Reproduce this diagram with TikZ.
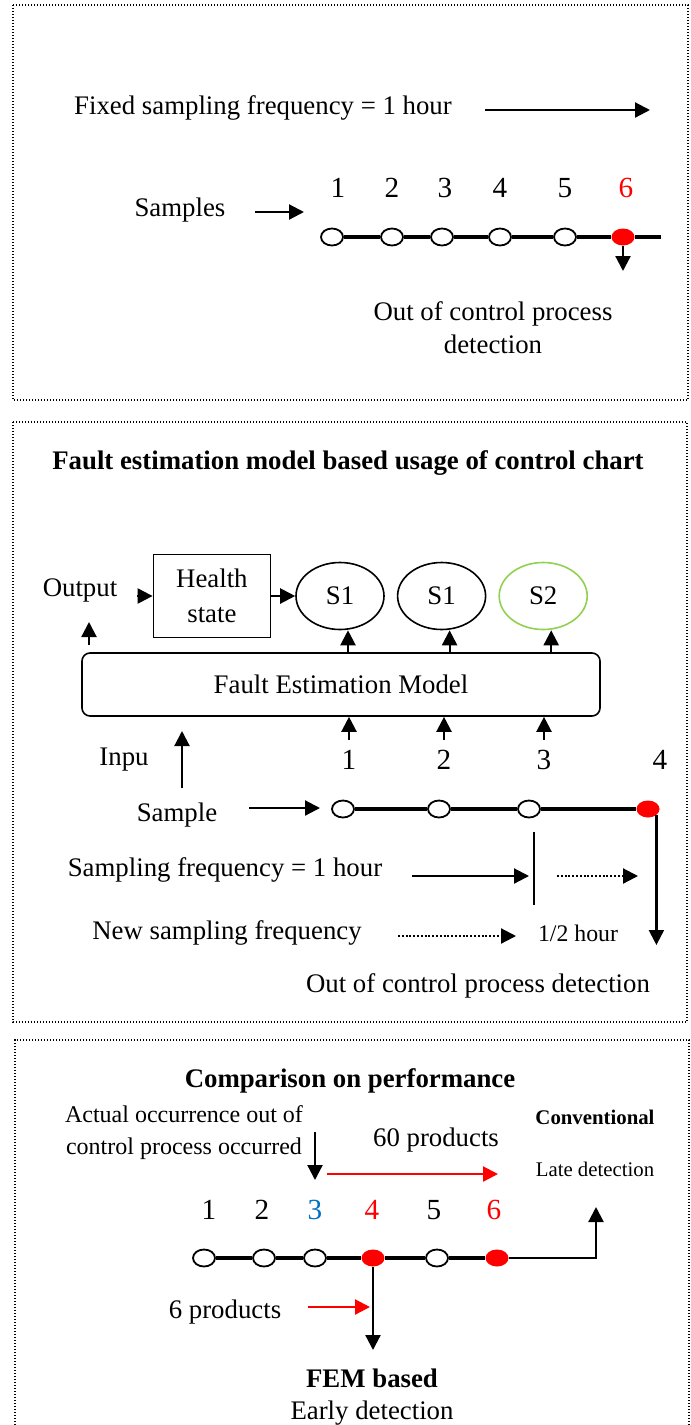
\documentclass[tikz,border=0pt]{standalone}
\usepackage{fontspec}
\setmainfont{Liberation Serif}
\usepackage{xcolor}
\usetikzlibrary{shapes.geometric,arrows.meta,positioning,calc}

\definecolor{alarmred}{RGB}{255,0,0}
\definecolor{shiftblue}{RGB}{0,112,192}
\definecolor{stategreen}{RGB}{146,208,80}

\begin{document}
\begin{tikzpicture}[
    x=0.5pt, y=-0.5pt,
    panel/.style={draw=black, line width=0.7pt, dash pattern=on 0.7pt off 0.8pt},
    txt/.style={font=\fontsize{13.4}{16.5}\selectfont, inner sep=0pt, align=center},
    boldtxt/.style={txt, font=\fontsize{13.4}{16.5}\selectfont\bfseries},
    smalltxt/.style={font=\fontsize{10.4}{12.5}\selectfont, inner sep=0pt, align=center},
    num/.style={font=\fontsize{14.6}{16}\selectfont, inner sep=0pt},
    sample/.style={ellipse, draw=black, line width=0.9pt, fill=white, minimum width=11pt, minimum height=8.5pt, inner sep=0pt},
    alarm/.style={ellipse, fill=alarmred, minimum width=11.5pt, minimum height=8.5pt, inner sep=0pt},
    healthstate/.style={ellipse, draw=black, line width=0.8pt, minimum width=44pt, minimum height=33.5pt, inner sep=0pt, font=\fontsize{13.4}{16.5}\selectfont},
    statebox/.style={rectangle, draw=black, line width=0.8pt, minimum width=58.5pt, minimum height=41.5pt, inner sep=0pt, align=center, font=\fontsize{13.4}{17.5}\selectfont},
    timeline/.style={line width=2.4pt},
    arrow/.style={-{Triangle[length=7.5pt,width=7.5pt]}, line width=1.1pt},
    dotarrow/.style={arrow, dash pattern=on 1pt off 0.9pt},
]
\useasboundingbox (0,0) rectangle (691,1425);

% Panel 1: fixed sampling
\draw[panel] (13,5) rectangle (688,400);

\node[txt] (fixed) at (263,108) {Fixed sampling frequency = 1 hour};
\coordinate (fixedA) at (485,110);
\coordinate (fixedB) at (650,110);
\draw[arrow] (fixedA) -- (fixedB);

\node[txt] (samples) at (180,210) {Samples};
\coordinate (samplesA) at (255,212);
\coordinate (samplesB) at (304,212);
\draw[arrow] (samplesA) -- (samplesB);

\foreach \x/\i in {338/1, 392/2, 445/3, 500/4, 565/5}{
    \node[num] (pn\i) at (\x,188) {\i};
}
\node[num, text=alarmred] (pn6) at (626,188) {6};

\foreach \x/\i in {332/1, 392/2, 442/3, 500/4, 565/5}{
    \node[sample] (pa\i) at (\x,237) {};
}
\node[alarm] (pa6) at (623,237) {};
\coordinate (paend) at (661,237);
\draw[timeline] (pa1) -- (pa2) -- (pa3) -- (pa4) -- (pa5) -- (pa6) -- (paend);

\coordinate (padown) at (623,271);
\draw[arrow] (pa6.south) -- (padown);
\node[txt] (padetect) at (493,328) {Out of control process\\detection};

% Panel 2: fault estimation model
\draw[panel] (13,422) rectangle (687,1022);
\node[boldtxt] (femtitle) at (348,463) {Fault estimation model based usage of control chart};

\node[healthstate] (s1a) at (340,596) {S1};
\node[healthstate, right=6pt of s1a] (s1b) {S1};
\node[healthstate, draw=stategreen, right=6pt of s1b] (s2) {S2};
\node[statebox, left=12pt of s1a] (health) {Health\\state};

\node[txt] (output) at (80,590) {Output};
\coordinate (outA) at (137,596);
\draw[arrow] (outA) -- (health.west);
\draw[arrow] (health.east) -- (s1a.west);
\coordinate (outupA) at (89,645);
\coordinate (outupB) at (89,622);
\draw[arrow] (outupA) -- (outupB);

\node[statebox, rounded corners=4pt, minimum width=259pt, minimum height=31.5pt] (fem) at (341,684.5) {Fault Estimation Model};
\foreach \n in {s1a, s1b, s2}{
    \draw[arrow] ($(fem.north -| \n)+(8,0)$) -- ($(\n.south)+(8,0)$);
}

\foreach \x/\i in {349/1, 444/2, 544/3}{
    \node[num] (fn\i) at (\x,760) {\i};
    \draw[arrow] ($(fn\i.north)+(0,-10)$) -- (fn\i.north |- fem.south);
}
\node[num] (fn4) at (660,760) {4};

\node[txt] (inpu) at (124,760) {Inpu};
\coordinate (inpuA) at (182,788);
\coordinate (inpuB) at (182,731);
\draw[arrow] (inpuA) -- (inpuB);

\node[txt] (sample) at (177,815) {Sample};
\coordinate (sampleA) at (249,808);
\coordinate (sampleB) at (320,808);
\draw[arrow] (sampleA) -- (sampleB);

\foreach \x/\i in {343/1, 439/2, 529/3}{
    \node[sample] (fb\i) at (\x,809) {};
}
\node[alarm] (fb4) at (648,809) {};
\draw[timeline] (fb1) -- (fb2) -- (fb3) -- (fb4);
\coordinate (fbdown) at (658,945);
\draw[arrow] (fb4.south east) -- (fb4.south east |- fbdown);

% switch from 1 hour to 1/2 hour
\coordinate (tickA) at (534,832);
\coordinate (tickB) at (534,905);
\draw[line width=1pt] (tickA) -- (tickB);

\node[txt] (oldfreq) at (225,870) {Sampling frequency = 1 hour};
\coordinate (oldA) at (412,876);
\coordinate (oldB) at (529,876);
\draw[arrow] (oldA) -- (oldB);
\coordinate (dotA) at (557,876);
\coordinate (dotB) at (638,876);
\draw[dotarrow] (dotA) -- (dotB);

\node[txt] (newfreq) at (227,933) {New sampling frequency};
\coordinate (newA) at (398,936);
\coordinate (newB) at (516,936);
\draw[dotarrow] (newA) -- (newB);
\node[txt, font=\fontsize{11.9}{14}\selectfont] (halfhour) at (578,933) {1/2 hour};

\node[txt] (fbdetect) at (478,986) {Out of control process detection};

% Panel 3: comparison
\draw[panel] (15,1425) -- (15,1040) -- (689,1040) -- (689,1425);
\node[boldtxt] (comptitle) at (350,1081) {Comparison on performance};

\node[txt, font=\fontsize{12}{16}\selectfont] (actual) at (184,1133) {Actual occurrence out of\\control process occurred};
\coordinate (actualA) at (315,1132);
\coordinate (actualB) at (315,1180);
\draw[arrow] (actualA) -- (actualB);

\node[txt] (sixty) at (436,1140) {60 products};
\coordinate (sixtyA) at (327,1174);
\coordinate (sixtyB) at (498,1174);
\draw[arrow, alarmred] (sixtyA) -- (sixtyB);

\node[smalltxt, font=\fontsize{10.4}{12.5}\selectfont\bfseries] (conv) at (595,1117) {Conventional};
\node[smalltxt] (late) at (595,1169) {Late detection};

\foreach \x/\i/\c in {209/1/black, 262/2/black, 315/3/shiftblue, 372/4/alarmred, 434/5/black, 494/6/alarmred}{
    \node[num, text=\c] (cn\i) at (\x,1210) {\i};
}

\foreach \x/\i in {204/1, 264/2, 315/3, 437/5}{
    \node[sample] (tc\i) at (\x,1258) {};
}
\node[alarm] (tc4) at (373,1258) {};
\node[alarm] (tc6) at (497,1258) {};
\draw[timeline] (tc1) -- (tc2) -- (tc3) -- (tc4) -- (tc5) -- (tc6);

\coordinate (lateup) at (596,1207);
\draw[arrow] (tc6.east) -| (lateup);
\coordinate (earlydown) at (373,1350);
\draw[arrow] (tc4.south) -- (earlydown);

\node[txt] (six) at (225,1312) {6 products};
\coordinate (sixA) at (308,1307);
\coordinate (sixB) at (370,1307);
\draw[arrow, alarmred] (sixA) -- (sixB);

\node[boldtxt] (fembased) at (372,1378) {FEM based};
\node[txt] (early) at (372,1413) {Early detection};

\end{tikzpicture}
\end{document}
